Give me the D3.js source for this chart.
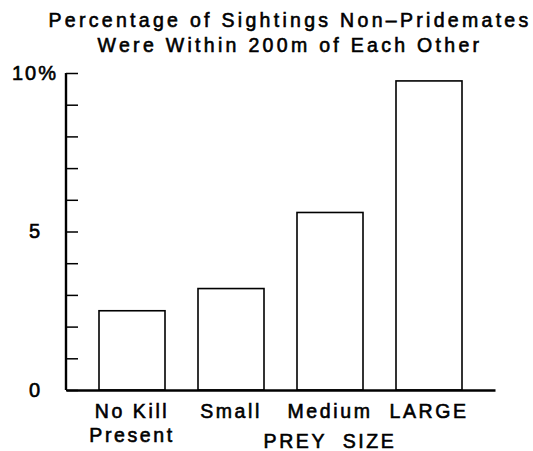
<!DOCTYPE html>
<html>
<head>
<meta charset="utf-8">
<script src="https://cdn.jsdelivr.net/npm/d3@7"></script>
<style>
  body { margin: 0; background: #fff; }
  text { font-family: "Liberation Sans", Arial, sans-serif; fill: #000; }
</style>
</head>
<body>
<div class="chart"></div>
<script>
// data
let categories = ['No Kill|Present', 'Small', 'Medium', 'LARGE'];
let values = [2.5, 3.2, 5.6, 9.75];
let yTicks = [0, 1, 2, 3, 4, 5, 6, 7, 8, 9, 10];
let yLabels = {0: '0', 5: '5', 10: '10%'};
let titleLines = ['Percentage of Sightings Non\u2013Pridemates', 'Were Within 200m of Each Other'];
let xTitle = 'PREY  SIZE';

let W = 533, H = 451;
let margin = {top: 73, right: 38, bottom: 61, left: 66};
let width = W - margin.left - margin.right;
let height = H - margin.top - margin.bottom;

let root = d3.select('.chart')
  .append('svg')
    .attr('width', W)
    .attr('height', H);

root.selectAll('text.title')
  .data(titleLines)
  .enter().append('text')
    .attr('class', 'title')
    .attr('x', 290)
    .attr('y', (d, i) => 27 + i * 25)
    .attr('text-anchor', 'middle')
    .style('font-size', '19.5px')
    .style('letter-spacing', '3.3px')
    .style('stroke', '#000')
    .style('stroke-width', 0.6)
    .text(d => d);

let svg = root.append('g')
  .attr('transform', `translate(${margin.left}, ${margin.top})`);

let xScale = d3.scaleBand()
  .domain(categories)
  .range([0, width])
  .paddingInner(1 / 3)
  .paddingOuter(1 / 3);

let yScale = d3.scaleLinear()
  .domain([0, 10])
  .range([height, 0]);

// bars
svg.selectAll('rect.bar')
  .data(values)
  .enter().append('rect')
    .attr('class', 'bar')
    .attr('x', (d, i) => xScale(categories[i]))
    .attr('y', d => yScale(d))
    .attr('width', xScale.bandwidth())
    .attr('height', d => height - yScale(d))
    .style('fill', '#fff')
    .style('stroke', '#000')
    .style('stroke-width', 1.6);

// y axis, ticks pointing into the plot
let yAxis = d3.axisLeft(yScale)
  .tickValues(yTicks)
  .tickSizeInner(-12)
  .tickSizeOuter(0)
  .tickPadding(24)
  .tickFormat(d => yLabels[d] || '');

let gy = svg.append('g').call(yAxis);
gy.select('.domain').attr('stroke-width', 2.4).attr('d', `M0,0V${height}`);
gy.selectAll('.tick line').attr('stroke-width', 1.5);
gy.selectAll('.tick text')
  .style('font-family', '"Liberation Sans", Arial, sans-serif')
  .style('font-size', '20px')
  .style('letter-spacing', '2px')
  .style('stroke', '#000')
  .style('stroke-width', 0.6)
  .attr('x', d => d === 10 ? -8 : -24);

// x axis
let xAxis = d3.axisBottom(xScale)
  .tickSize(0)
  .tickPadding(0)
  .tickFormat('');

let gx = svg.append('g')
  .attr('transform', `translate(0, ${height})`)
  .call(xAxis);
gx.select('.domain').attr('stroke-width', 2.4);

gx.selectAll('.tick').each(function(d) {
  let lines = d.split('|');
  d3.select(this).selectAll('text.lab')
    .data(lines)
    .enter().append('text')
      .attr('class', 'lab')
      .attr('y', (l, i) => 28 + i * 24)
      .attr('text-anchor', 'middle')
      .style('font-size', '19.5px')
      .style('letter-spacing', '2.6px')
      .style('stroke', '#000')
      .style('stroke-width', 0.6)
      .text(l => l);
});

svg.append('text')
  .attr('x', (xScale(categories[2]) + xScale.bandwidth() / 2))
  .attr('y', height + 58)
  .attr('text-anchor', 'middle')
  .style('font-size', '19.5px')
  .style('letter-spacing', '2.6px')
  .style('white-space', 'pre')
  .style('stroke', '#000')
  .style('stroke-width', 0.6)
  .text(xTitle);
</script>
</body>
</html>
